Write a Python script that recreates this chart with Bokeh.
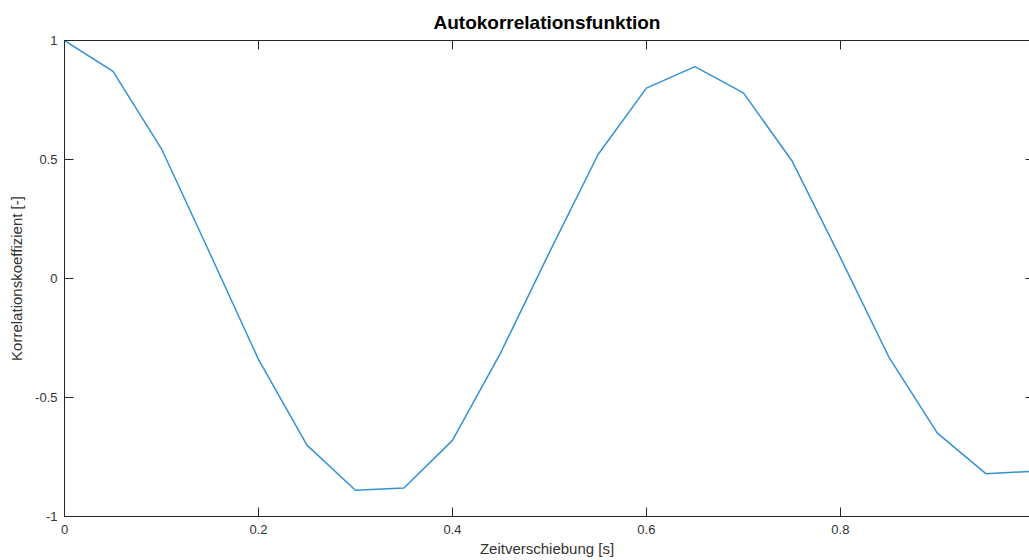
from bokeh.plotting import figure
from bokeh.models import Range1d, LinearAxis, FixedTicker, CustomLabelingPolicy
from bokeh.embed import file_html
from bokeh.resources import INLINE

# Data
lag = [0.0, 0.05, 0.10, 0.15, 0.20, 0.25, 0.30, 0.35, 0.40, 0.45, 0.50,
       0.55, 0.60, 0.65, 0.70, 0.75, 0.80, 0.85, 0.90, 0.95, 1.00]
acf = [1.0, 0.87, 0.545, 0.105, -0.34, -0.70, -0.89, -0.88, -0.68, -0.31, 0.11,
       0.52, 0.80, 0.89, 0.78, 0.495, 0.088, -0.33, -0.65, -0.82, -0.81]

x_tick_values = [0.0, 0.2, 0.4, 0.6, 0.8]
x_tick_labels = ["0", "0.2", "0.4", "0.6", "0.8"]
y_tick_values = [-1.0, -0.5, 0.0, 0.5, 1.0]
y_tick_labels = ["-1", "-0.5", "0", "0.5", "1"]

title_text = "Autokorrelationsfunktion"
x_label = "Zeitverschiebung [s]"
y_label = "Korrelationskoeffizient [-]"

FONT = "Liberation Sans"
AX_COLOR = "#262626"
TXT_COLOR = "#333333"

p = figure(width=1029, height=560, output_backend="svg", toolbar_location=None,
           x_range=Range1d(0, 0.995), y_range=Range1d(-1, 1),
           x_axis_location=None, y_axis_location=None,
           min_border_left=64, min_border_right=0, min_border_top=40, min_border_bottom=44)
p.outline_line_color = None
p.grid.visible = False
p.background_fill_color = "white"
p.border_fill_color = "white"

p.title.text = title_text
p.title.align = "center"
p.title.text_font = FONT
p.title.text_font_size = "19px"
p.title.text_font_style = "bold"
p.title.text_color = "black"
p.title.offset = 3
p.title.standoff = 15

xt = FixedTicker(ticks=x_tick_values)
yt = FixedTicker(ticks=y_tick_values)

no_labels = CustomLabelingPolicy(code="""
const all = [...indices]
for (const i of all) { indices.unset(i) }
return indices
""")


def style(ax, ticker, labels_map, show_labels, tick_in, show_line=True):
    ax.ticker = ticker
    ax.major_tick_in = tick_in
    ax.major_tick_out = 0
    ax.minor_tick_line_color = None
    ax.major_tick_line_color = AX_COLOR
    ax.axis_line_color = AX_COLOR if show_line else None
    ax.axis_line_width = 1
    if show_labels:
        ax.major_label_overrides = labels_map
        ax.major_label_text_font = FONT
        ax.major_label_text_font_size = "13px"
        ax.major_label_text_color = TXT_COLOR
        ax.axis_label_text_font = FONT
        ax.axis_label_text_font_size = "15px"
        ax.axis_label_text_font_style = "normal"
        ax.axis_label_text_color = TXT_COLOR
    else:
        ax.major_label_policy = no_labels
        ax.major_label_text_font_size = "0px"
        ax.major_label_standoff = 0


xmap = {v: s for v, s in zip(x_tick_values, x_tick_labels)}
ymap = {v: s for v, s in zip(y_tick_values, y_tick_labels)}

bottom = LinearAxis(axis_label=x_label)
style(bottom, xt, xmap, True, 9)
bottom.major_label_standoff = 8
bottom.axis_label_standoff = 3
p.add_layout(bottom, "below")

left = LinearAxis(axis_label=y_label)
style(left, yt, ymap, True, 9)
left.major_label_standoff = 7
left.axis_label_standoff = 7
p.add_layout(left, "left")

top = LinearAxis()
style(top, xt, {}, False, 9)
p.add_layout(top, "above")

right = LinearAxis()
style(right, yt, {}, False, 4, show_line=False)
p.add_layout(right, "right")

p.line(lag, acf, line_color="#3591d4", line_width=1.5)

open("out.html", "w").write(file_html(p, INLINE))
